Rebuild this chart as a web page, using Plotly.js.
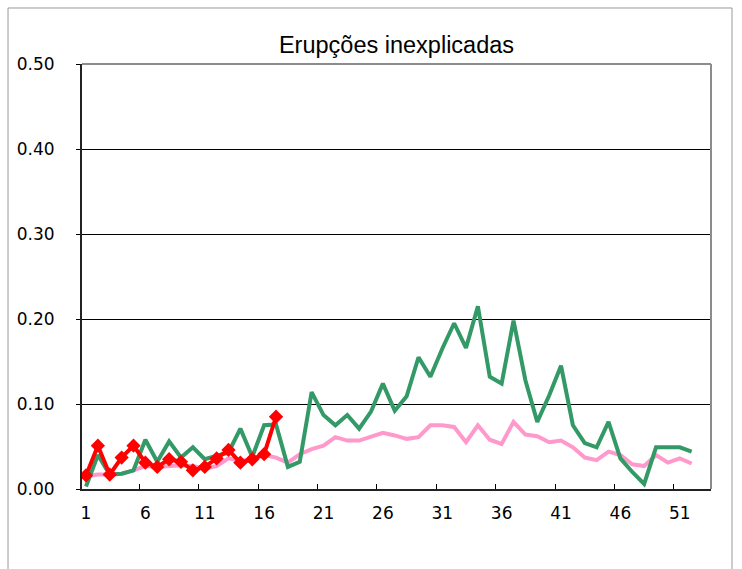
<!DOCTYPE html>
<html><head><meta charset="utf-8">
<script src="https://cdn.plot.ly/plotly-3.0.1.min.js"></script>
<style>html,body{margin:0;padding:0;background:#fff}#chart{width:742px;height:569px}</style>
</head><body><div id="chart"></div>
<script>
const weeks = [1,2,3,4,5,6,7,8,9,10,11,12,13,14,15,16,17,18,19,20,21,22,23,24,25,26,
  27,28,29,30,31,32,33,34,35,36,37,38,39,40,41,42,43,44,45,46,47,48,49,50,51,52];
const redWeeks = [1,2,3,4,5,6,7,8,9,10,11,12,13,14,15,16,17];

const pinkValues = [0.015,0.017,0.017,0.018,0.022,0.027,0.026,0.027,0.028,0.027,0.024,0.027,0.036,0.033,0.035,0.040,0.037,
  0.031,0.041,0.047,0.051,0.061,0.057,0.057,0.061,0.066,0.063,0.059,0.061,0.075,0.075,0.073,0.055,0.075,0.058,0.053,
  0.079,0.064,0.062,0.055,0.057,0.049,0.037,0.034,0.044,0.040,0.029,0.027,0.040,0.031,0.036,0.030];
const greenValues = [0.003,0.040,0.017,0.018,0.022,0.058,0.032,0.056,0.037,0.049,0.035,0.039,0.043,0.071,0.038,0.075,0.076,
  0.026,0.032,0.114,0.087,0.075,0.087,0.071,0.091,0.124,0.092,0.109,0.155,0.132,0.165,0.195,0.166,0.215,0.132,0.124,
  0.198,0.128,0.079,0.110,0.145,0.075,0.054,0.049,0.079,0.036,0.020,0.006,0.049,0.049,0.049,0.044];
const redValues = [0.016,0.051,0.017,0.037,0.051,0.031,0.026,0.035,0.032,0.022,0.026,0.036,0.046,0.031,0.035,0.041,0.085];

const xTickVals = [1,6,11,16,21,26,31,36,41,46,51];
const xTickText = ['1','6','11','16','21','26','31','36','41','46','51'];
const xTickMarks = [5.5,10.5,15.5,20.5,25.5,30.5,35.5,40.5,45.5,50.5];
const yTickVals = [0,0.1,0.2,0.3,0.4,0.5];
const yTickText = ['0.00','0.10','0.20','0.30','0.40','0.50'];

const traces = [
  {x: weeks, y: pinkValues, type: 'scatter', mode: 'lines', line: {color: '#ff99cc', width: 4}, hoverinfo: 'skip'},
  {x: weeks, y: greenValues, type: 'scatter', mode: 'lines', line: {color: '#339966', width: 4}, hoverinfo: 'skip'},
  {x: redWeeks, y: redValues, type: 'scatter', mode: 'lines+markers', line: {color: '#ff0000', width: 4},
   marker: {symbol: 'diamond', size: 11, color: '#ff0000'}, hoverinfo: 'skip'},
  {x: [], y: [], xaxis: 'x2', type: 'scatter', mode: 'lines', hoverinfo: 'skip'}
];

const tickFont = {family: 'DejaVu Sans', size: 17, color: '#000'};
const xr = [0.663, 53.63];

const layout = {
  width: 742, height: 569,
  margin: {l: 82, r: 31, t: 64, b: 80},
  paper_bgcolor: '#fff', plot_bgcolor: '#fff',
  showlegend: false,
  title: {text: 'Erupções inexplicadas', x: 0.5, xref: 'paper', xanchor: 'center',
          y: 0.921, yref: 'container', yanchor: 'middle',
          font: {family: 'Liberation Sans, Arial, sans-serif', size: 23.5, color: '#000'}},
  xaxis: {range: xr, tickmode: 'array', tickvals: xTickVals, ticktext: xTickText,
          ticks: '', showgrid: false, zeroline: false, showline: true, linecolor: '#222', linewidth: 2,
          tickfont: tickFont, ticklabelstandoff: 8},
  xaxis2: {range: xr, overlaying: 'x', anchor: 'y', side: 'bottom', tickmode: 'array', tickvals: xTickMarks,
           ticks: 'inside', ticklen: 5, tickwidth: 1, tickcolor: '#000', showticklabels: false,
           showgrid: false, zeroline: false, showline: false},
  yaxis: {range: [0, 0.5], tickmode: 'array', tickvals: yTickVals, ticktext: yTickText,
          showgrid: true, gridcolor: '#000', gridwidth: 1, zeroline: false,
          showline: true, linecolor: '#222', linewidth: 2, ticks: 'outside', ticklen: 4, tickcolor: '#000',
          tickfont: tickFont, ticklabelstandoff: 18},
  shapes: [
    {type: 'line', xref: 'paper', yref: 'paper', x0: 0, x1: 1, y0: 1, y1: 1, line: {color: '#8c8c8c', width: 2}},
    {type: 'line', xref: 'paper', yref: 'paper', x0: 1, x1: 1, y0: 0, y1: 1, line: {color: '#8c8c8c', width: 2}},
    {type: 'rect', xref: 'paper', yref: 'paper', x0: -0.1176, x1: 1.0334, y0: -0.3, y1: 1.1318,
     line: {color: '#999', width: 1}, fillcolor: 'rgba(0,0,0,0)', layer: 'below'}
  ]
};

Plotly.newPlot('chart', traces, layout, {staticPlot: true, displayModeBar: false});
</script>
</body></html>
